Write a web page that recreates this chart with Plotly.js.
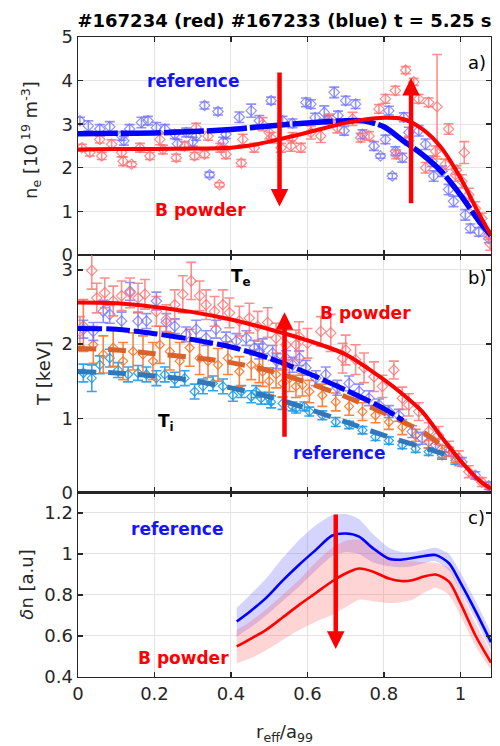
<!DOCTYPE html>
<html>
<head>
<meta charset="utf-8">
<script src="https://cdn.plot.ly/plotly-3.0.1.min.js"></script>
<style>html,body{margin:0;padding:0;background:#fff;}#chart{width:500px;height:746px;}</style>
</head>
<body>
<div id="chart"></div>
<script>
// ---------- Panel a: electron density ----------
var neRefX = [0.005,0.027,0.057,0.083,0.114,0.12,0.135,0.166,0.183,0.205,0.227,0.253,0.26,0.283,0.30,0.309,0.331,0.344,0.366,0.38,0.387,0.422,0.453,0.474,0.505,0.535,0.561,0.596,0.609,0.62,0.644,0.655,0.670,0.68,0.696,0.70,0.726,0.744,0.774,0.791,0.804,0.813,0.822,0.830,0.848,0.852,0.865,0.891,0.909,0.926,0.930,0.952,0.969,0.982,1.013,1.026,1.048,1.074];
var neRefY = [3.08,2.96,2.89,2.94,2.73,2.62,2.89,3.04,3.08,2.92,2.89,2.77,2.55,2.81,2.60,2.73,3.43,1.84,3.29,2.60,2.77,3.16,3.31,3.08,3.54,3.08,3.02,3.50,3.46,3.15,3.27,3.10,3.73,3.20,2.85,3.54,3.46,2.77,2.50,2.27,2.65,3.31,1.81,2.38,2.23,3.16,2.81,2.85,2.54,2.15,1.81,1.92,1.50,1.23,0.92,0.61,0.53,0.38];
var neRefErr = [0.08,0.12,0.10,0.12,0.10,0.10,0.10,0.12,0.10,0.12,0.10,0.10,0.10,0.10,0.10,0.10,0.08,0.06,0.08,0.10,0.10,0.12,0.15,0.12,0.08,0.10,0.10,0.10,0.10,0.10,0.15,0.10,0.12,0.10,0.10,0.10,0.10,0.10,0.10,0.05,0.10,0.10,0.06,0.10,0.10,0.10,0.12,0.12,0.12,0.12,0.12,0.12,0.12,0.12,0.12,0.10,0.10,0.10];

var neBpX = [0.010,0.031,0.057,0.062,0.088,0.114,0.118,0.140,0.162,0.188,0.214,0.222,0.257,0.279,0.305,0.309,0.331,0.340,0.370,0.372,0.387,0.427,0.431,0.461,0.483,0.500,0.505,0.531,0.557,0.561,0.583,0.609,0.635,0.657,0.678,0.718,0.739,0.761,0.787,0.804,0.830,0.832,0.857,0.865,0.878,0.891,0.909,0.917,0.935,0.939,0.961,0.969,0.987,0.990,1.004,1.010,1.022,1.039,1.056,1.074,1.078];
var neBpY = [2.46,2.35,2.65,2.27,2.54,2.35,2.15,2.08,2.46,2.27,2.65,2.42,2.23,2.50,2.27,2.92,2.31,2.73,1.61,2.46,2.31,2.11,2.65,2.46,3.00,2.81,2.69,2.46,2.50,2.69,2.46,2.81,2.73,3.08,2.92,3.12,2.69,2.73,3.35,3.58,3.77,2.31,4.24,2.62,3.97,3.58,2.00,3.50,2.38,3.40,2.08,2.89,1.84,1.95,1.69,2.35,1.38,1.07,0.84,0.46,0.26];
var neBpErr = [0.08,0.08,0.08,0.08,0.10,0.10,0.10,0.06,0.10,0.08,0.12,0.10,0.08,0.10,0.08,0.10,0.08,0.10,0.05,0.10,0.10,0.08,0.12,0.10,0.15,0.15,0.12,0.10,0.12,0.12,0.10,0.15,0.15,0.15,0.12,0.15,0.10,0.10,0.10,0.10,0.10,0.10,0.08,0.10,0.08,0.10,0.12,0.10,0.12,1.20,0.12,0.12,0.15,0.10,0.15,0.25,0.15,0.15,0.12,0.10,0.15];

var neFitX = [0,0.1,0.2,0.3,0.4,0.45,0.5,0.6,0.7,0.75,0.8,0.85,0.9,0.95,1.0,1.05,1.08];
var neFitRef = [2.78,2.79,2.80,2.83,2.88,2.92,2.96,3.03,3.08,3.07,2.94,2.62,2.31,1.92,1.38,0.76,0.45];
var neFitBp  = [2.42,2.43,2.43,2.44,2.46,2.51,2.60,2.81,3.03,3.11,3.15,3.12,2.89,2.46,1.77,0.92,0.46];

// ---------- Panel b: temperatures ----------
var teBpX = [0.005,0.036,0.049,0.070,0.092,0.114,0.136,0.157,0.175,0.205,0.231,0.253,0.274,0.296,0.318,0.335,0.357,0.379,0.396,0.422,0.448,0.470,0.496,0.518,0.544,0.570,0.578,0.600,0.635,0.661,0.692,0.700,0.726,0.748,0.774,0.796,0.826,0.848,0.865,0.891,0.917,0.943,0.970,0.996,1.022,1.056,1.078];
var teBpY = [2.17,2.99,2.62,2.69,2.58,2.65,2.69,2.62,2.67,2.44,2.33,2.53,2.67,2.85,2.65,2.53,2.44,2.53,2.42,2.31,2.35,2.24,2.29,2.08,1.99,1.99,2.10,2.01,2.17,2.15,1.81,1.92,1.79,1.68,1.56,1.43,1.65,1.27,1.18,1.09,0.82,0.77,0.59,0.46,0.28,0.14,0.05];
var teBpErr = [0.20,0.25,0.20,0.20,0.20,0.20,0.20,0.20,0.20,0.20,0.20,0.20,0.25,0.25,0.20,0.20,0.20,0.20,0.20,0.20,0.20,0.20,0.20,0.20,0.20,0.20,0.20,0.20,0.20,0.25,0.20,0.20,0.20,0.20,0.20,0.15,0.12,0.15,0.15,0.12,0.12,0.12,0.10,0.10,0.08,0.06,0.05];

var teRefX = [0.014,0.040,0.066,0.083,0.114,0.136,0.157,0.179,0.205,0.231,0.253,0.283,0.309,0.335,0.361,0.387,0.414,0.440,0.461,0.474,0.483,0.509,0.520,0.544,0.561,0.579,0.596,0.622,0.648,0.678,0.709,0.735,0.761,0.787,0.813,0.839,0.874,0.900,0.935,0.970,1.004,1.039,1.074];
var teRefY = [2.20,2.17,2.44,2.40,2.31,2.71,2.31,2.31,2.58,2.29,2.24,2.13,2.20,2.08,2.20,2.06,2.04,2.08,1.95,1.90,1.97,1.88,1.77,1.81,1.72,1.81,1.68,1.54,1.59,1.41,1.47,1.36,1.27,1.18,1.09,1.04,0.82,0.73,0.64,0.55,0.41,0.23,0.09];
var teRefErr = [0.12,0.12,0.15,0.12,0.12,0.12,0.12,0.10,0.12,0.12,0.10,0.10,0.12,0.10,0.12,0.10,0.10,0.10,0.10,0.10,0.10,0.10,0.10,0.10,0.10,0.10,0.10,0.10,0.10,0.10,0.10,0.10,0.10,0.08,0.08,0.08,0.08,0.08,0.08,0.06,0.06,0.05,0.05];

var tiBpX = [0.014,0.040,0.066,0.092,0.118,0.144,0.170,0.196,0.214,0.240,0.266,0.292,0.318,0.340,0.366,0.392,0.422,0.453,0.474,0.483,0.500,0.518,0.535,0.553,0.570,0.587,0.605,0.639,0.674,0.709,0.744,0.778,0.813,0.848,0.883,0.917,0.952,0.987];
var tiBpY = [2.25,1.99,1.86,1.95,1.77,1.90,1.86,1.77,1.99,1.90,1.77,1.95,1.81,1.77,1.72,1.81,1.63,1.72,1.68,1.63,1.50,1.59,1.47,1.54,1.43,1.45,1.36,1.31,1.22,1.16,1.09,1.04,0.95,0.88,0.77,0.68,0.55,0.46];
var tiBpErr = [0.35,0.25,0.25,0.25,0.25,0.25,0.25,0.25,0.25,0.25,0.25,0.25,0.22,0.22,0.22,0.22,0.20,0.20,0.20,0.20,0.18,0.18,0.18,0.18,0.15,0.15,0.15,0.15,0.12,0.12,0.12,0.10,0.10,0.10,0.08,0.08,0.08,0.06];

var tiRefX = [0.014,0.036,0.057,0.083,0.105,0.131,0.157,0.179,0.205,0.227,0.253,0.279,0.305,0.327,0.353,0.379,0.405,0.427,0.453,0.466,0.479,0.500,0.505,0.535,0.561,0.570,0.592,0.605,0.639,0.674,0.709,0.744,0.778,0.813,0.848,0.883,0.917,0.952,0.987];
var tiRefY = [1.61,1.54,1.72,1.81,1.65,1.59,1.61,1.59,1.54,1.59,1.52,1.54,1.36,1.43,1.47,1.43,1.31,1.36,1.29,1.36,1.27,1.27,1.22,1.20,1.16,1.13,1.16,1.09,1.04,0.95,0.91,0.84,0.75,0.70,0.64,0.59,0.55,0.50,0.43];
var tiRefErr = [0.12,0.18,0.12,0.12,0.10,0.10,0.10,0.10,0.10,0.10,0.10,0.10,0.10,0.10,0.10,0.10,0.08,0.08,0.08,0.08,0.08,0.08,0.08,0.08,0.06,0.06,0.06,0.06,0.06,0.06,0.05,0.05,0.05,0.05,0.05,0.05,0.05,0.05,0.05];

var teFitX = [0,0.1,0.2,0.3,0.4,0.5,0.6,0.7,0.8,0.85,0.9,0.95,1.0,1.05,1.08];
var teFitBp = [2.56,2.55,2.50,2.43,2.33,2.20,2.05,1.86,1.52,1.32,1.09,0.75,0.43,0.16,0.05];
var teFitRefX = [0,0.1,0.2,0.3,0.4,0.5,0.6,0.7,0.8,0.85];
var teFitRef = [2.21,2.20,2.14,2.06,1.96,1.81,1.61,1.38,1.13,0.97];
var tiFitX = [0,0.1,0.2,0.3,0.4,0.5,0.6,0.7,0.8,0.9,0.97];
var tiFitBp = [1.94,1.92,1.87,1.82,1.75,1.64,1.48,1.29,1.07,0.82,0.55];
var tiFitRef = [1.63,1.61,1.57,1.51,1.41,1.29,1.13,0.95,0.77,0.61,0.50];

// ---------- Panel c: density fluctuations ----------
var dnX = [0.415,0.45,0.492,0.535,0.579,0.622,0.665,0.70,0.735,0.77,0.813,0.845,0.874,0.905,0.935,0.97,1.0,1.04,1.08];
var dnRef   = [0.671,0.72,0.786,0.87,0.949,1.02,1.09,1.10,1.085,1.03,0.977,0.972,0.98,0.99,0.995,0.955,0.86,0.72,0.57];
var dnRefUp = [0.737,0.80,0.88,0.98,1.07,1.14,1.19,1.195,1.17,1.10,1.03,1.01,1.01,1.02,1.03,1.00,0.91,0.77,0.61];
var dnRefLo = [0.598,0.64,0.70,0.77,0.843,0.92,0.99,1.01,1.00,0.96,0.94,0.935,0.94,0.955,0.965,0.92,0.82,0.68,0.535];
var dnBp    = [0.549,0.585,0.63,0.69,0.753,0.81,0.867,0.905,0.929,0.915,0.88,0.868,0.872,0.89,0.90,0.865,0.76,0.60,0.47];
var dnBpUp  = [0.63,0.67,0.73,0.80,0.875,0.96,1.03,1.065,1.07,1.04,0.99,0.97,0.965,0.96,0.957,0.93,0.82,0.66,0.515];
var dnBpLo  = [0.467,0.49,0.53,0.58,0.63,0.67,0.704,0.74,0.777,0.77,0.761,0.765,0.777,0.81,0.835,0.80,0.70,0.55,0.44];

var xTicks = [0,0.2,0.4,0.6,0.8,1];

// ---------- styles ----------
var FONT = 'DejaVu Sans, Liberation Sans, Arial, sans-serif';
var cRefPt = 'rgba(110,110,255,0.75)';
var cBpPt = 'rgba(255,110,110,0.78)';
var cTiBpPt = 'rgba(250,120,45,0.9)';
var cTiRefPt = 'rgba(30,155,230,0.9)';

function pts(x, y, e, color, xa, ya, size) {
  return {x: x, y: y, xaxis: xa, yaxis: ya, type: 'scatter', mode: 'markers',
    marker: {symbol: 'diamond-open', size: size || 8, color: color, line: {width: 1.2, color: color}},
    error_y: {type: 'data', array: e, visible: true, color: color, thickness: 1.6, width: 5},
    hoverinfo: 'skip', showlegend: false};
}
function line(x, y, color, width, dash, xa, ya) {
  return {x: x, y: y, xaxis: xa, yaxis: ya, type: 'scatter', mode: 'lines',
    line: {color: color, width: width, dash: dash || 'solid', shape: 'spline', smoothing: 0.8},
    hoverinfo: 'skip', showlegend: false};
}
function band(x, up, lo, color) {
  return {x: x.concat(x.slice().reverse()), y: up.concat(lo.slice().reverse()),
    xaxis: 'x3', yaxis: 'y3', type: 'scatter', mode: 'lines', fill: 'toself',
    fillcolor: color, line: {width: 0, color: 'rgba(0,0,0,0)', shape: 'spline', smoothing: 0.6},
    hoverinfo: 'skip', showlegend: false};
}

var data = [
  pts(neRefX, neRefY, neRefErr, cRefPt, 'x', 'y'),
  pts(neBpX, neBpY, neBpErr, cBpPt, 'x', 'y'),
  line(neFitX, neFitRef, '#0000FF', 5.5, '40px,3px', 'x', 'y'),
  line(neFitX, neFitBp, '#FF0000', 4, 'solid', 'x', 'y'),

  pts(tiRefX, tiRefY, tiRefErr, cTiRefPt, 'x2', 'y2', 7),
  pts(tiBpX, tiBpY, tiBpErr, cTiBpPt, 'x2', 'y2', 7),
  pts(teRefX, teRefY, teRefErr, cRefPt, 'x2', 'y2'),
  pts(teBpX, teBpY, teBpErr, cBpPt, 'x2', 'y2'),
  line(tiFitX, tiFitRef, '#2F78BE', 5, '18px,12px', 'x2', 'y2'),
  line(tiFitX, tiFitBp, '#D8612C', 5, '18px,12px', 'x2', 'y2'),
  line(teFitRefX, teFitRef, '#0000FF', 5, '24px,4px', 'x2', 'y2'),
  line(teFitX, teFitBp, '#FF0000', 4, 'solid', 'x2', 'y2'),

  band(dnX, dnRefUp, dnRefLo, 'rgba(60,60,255,0.22)'),
  band(dnX, dnBpUp, dnBpLo, 'rgba(255,60,60,0.22)'),
  line(dnX, dnRef, '#0000FF', 2.6, 'solid', 'x3', 'y3'),
  line(dnX, dnBp, '#FF0000', 2.6, 'solid', 'x3', 'y3')
];

var axisBase = {
  showline: true, mirror: 'ticks', linecolor: '#262626', linewidth: 1.4,
  ticks: 'inside', ticklen: 5, tickwidth: 1.4, tickcolor: '#262626',
  showgrid: true, gridcolor: '#e4e4e4', gridwidth: 1, zeroline: false,
  tickfont: {family: FONT, size: 18, color: '#262626'}
};
function ax(extra) { return Object.assign({}, axisBase, extra); }

function txt(x, y, xr, yr, t, color, size, bold) {
  return {x: x, y: y, xref: xr, yref: yr, text: bold ? '<b>' + t + '</b>' : t, showarrow: false,
    font: {family: FONT, size: size, color: color}, xanchor: 'center', yanchor: 'middle'};
}
function arrow(x, yTail, yTip, xr, yr) {
  return {x: x, y: yTip, ax: x, ay: yTail, xref: xr, yref: yr, axref: xr, ayref: yr,
    text: '', showarrow: true, arrowhead: 2, arrowsize: 0.78, arrowwidth: 4.5, arrowcolor: '#FF0000', standoff: 0, startstandoff: 0};
}
function ytitle(x, y, t) {
  return {x: x, y: y, xref: 'paper', yref: 'paper', text: t, showarrow: false, textangle: -90,
    font: {family: FONT, size: 18, color: '#262626'}, xanchor: 'center', yanchor: 'middle'};
}

var layout = {
  width: 500, height: 746,
  margin: {l: 78, r: 9, t: 37, b: 69, pad: 0},
  paper_bgcolor: '#ffffff', plot_bgcolor: '#ffffff',
  title: {text: '<b>#167234 (red) #167233 (blue) t = 5.25 s</b>', xref: 'paper', x: 0.5, xanchor: 'center',
    yref: 'container', y: 0.972, yanchor: 'middle', font: {family: FONT, size: 18, color: '#000000'}},
  xaxis: ax({anchor: 'y', domain: [0, 1], range: [0, 1.08], tickvals: xTicks, showticklabels: false}),
  xaxis2: ax({anchor: 'y2', domain: [0, 1], range: [0, 1.08], tickvals: xTicks, showticklabels: false}),
  xaxis3: ax({anchor: 'y3', domain: [0, 1], range: [0, 1.08], tickvals: xTicks}),
  yaxis: ax({anchor: 'x', domain: [0.6594, 1], range: [0, 5], tickvals: [0, 1, 2, 3, 4, 5]}),
  yaxis2: ax({anchor: 'x2', domain: [0.2883, 0.6594], range: [0, 3.2], tickvals: [0, 1, 2, 3]}),
  yaxis3: ax({anchor: 'x3', domain: [0, 0.2883], range: [0.4, 1.3], tickvals: [0.4, 0.6, 0.8, 1, 1.2]}),
  annotations: [
    txt(0.30, 3.99, 'x', 'y', 'reference', '#1414FF', 17, true),
    txt(0.32, 1.04, 'x', 'y', 'B powder', '#FF0000', 17, true),
    txt(1.043, 4.42, 'x', 'y', 'a)', '#000000', 18, false),
    arrow(0.527, 4.22, 1.11, 'x', 'y'),
    arrow(0.871, 1.15, 4.06, 'x', 'y'),

    txt(0.427, 2.90, 'x2', 'y2', 'T<sub>e</sub>', '#000000', 17, true),
    txt(0.753, 2.42, 'x2', 'y2', 'B powder', '#FF0000', 17, true),
    txt(0.23, 0.94, 'x2', 'y2', 'T<sub>i</sub>', '#000000', 17, true),
    txt(0.683, 0.53, 'x2', 'y2', 'reference', '#1414FF', 17, true),
    txt(1.043, 2.89, 'x2', 'y2', 'b)', '#000000', 18, false),
    arrow(0.54, 0.73, 2.43, 'x2', 'y2'),

    txt(0.258, 1.122, 'x3', 'y3', 'reference', '#1414FF', 17, true),
    txt(0.276, 0.493, 'x3', 'y3', 'B powder', '#FF0000', 17, true),
    txt(1.043, 1.18, 'x3', 'y3', 'c)', '#000000', 18, false),
    arrow(0.674, 1.20, 0.537, 'x3', 'y3'),

    ytitle(-0.114, 0.839, 'n<sub>e</sub> [10<sup> 19</sup> m<sup>-3</sup>]'),
    ytitle(-0.085, 0.475, 'T [keV]'),
    ytitle(-0.124, 0.144, '<i>δ</i>n [a.u]'),
    {x: 0.499, y: -0.088, xref: 'paper', yref: 'paper', text: 'r<sub>eff</sub>/a<sub>99</sub>', showarrow: false,
      font: {family: FONT, size: 18, color: '#262626'}, xanchor: 'center', yanchor: 'middle'}
  ]
};

Plotly.newPlot('chart', data, layout, {staticPlot: true, displayModeBar: false});
</script>
</body>
</html>
